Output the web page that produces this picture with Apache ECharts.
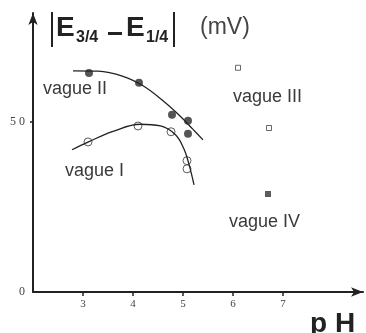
<!DOCTYPE html>
<html>
<head>
<meta charset="utf-8">
<script src="https://cdn.jsdelivr.net/npm/echarts@6/dist/echarts.min.js"></script>
<style>
  html, body { margin: 0; padding: 0; background: #fff; }
  #main { width: 366px; height: 333px; }
</style>
</head>
<body>
<div id="main"></div>
<script>
// readings taken off the figure: [pH, |E3/4 - E1/4| in mV]
var vagueI = [[3.1, 44.1], [4.1, 48.8], [4.76, 47.1], [5.08, 38.6], [5.08, 36.2]];
var vagueII = [[3.12, 64.4], [4.12, 61.5], [4.78, 52.1], [5.1, 50.3], [5.1, 46.5]];
var vagueIII = [[6.1, 65.9], [6.72, 48.2]];
var vagueIV = [[6.7, 28.8]];

// hand-drawn trend curves, read at a few points along each
var curveI = [[2.78, 41.8], [3.12, 44.2], [3.6, 47.2], [4.15, 49.3], [4.55, 48.8], [4.85, 46.2], [5.02, 42], [5.12, 37.5], [5.22, 31.5]];
var curveII = [[2.8, 65], [3.3, 64.9], [3.8, 63.4], [4.2, 60.6], [4.6, 56.2], [4.95, 51.6], [5.2, 47.8], [5.4, 44.7]];

var xTicks = [3, 4, 5, 6, 7];
var yTicks = [0, 50];

var chart = echarts.init(document.getElementById('main'), null, { renderer: 'canvas' });

var ink = '#222';
var sans = '"Liberation Sans", Arial, sans-serif';
var serif = '"Liberation Serif", "DejaVu Serif", serif';

function label(text, x, y) {
  return {
    type: 'text', x: x, y: y,
    style: { text: text, font: '18px ' + sans, fill: '#3a3a3a', verticalAlign: 'middle' }
  };
}

var option = {
  backgroundColor: '#fff',
  animation: false,
  grid: { left: 33, right: 3, top: 13, bottom: 41 },
  xAxis: {
    type: 'value', min: 2, max: 8.6, interval: 1,
    splitLine: { show: false },
    axisLine: { lineStyle: { color: ink, width: 2 }, symbol: ['none', 'arrow'], symbolSize: [7, 12] },
    axisTick: { customValues: xTicks, length: 4, lineStyle: { color: ink, width: 1.5 } },
    axisLabel: { customValues: xTicks, margin: 7, fontFamily: serif, fontSize: 11, color: '#444' }
  },
  yAxis: {
    type: 'value', min: 0, max: 82,
    splitLine: { show: false },
    axisLine: { lineStyle: { color: ink, width: 2 }, symbol: ['none', 'arrow'], symbolSize: [7, 12] },
    axisTick: { customValues: [50], length: 3, lineStyle: { color: ink, width: 1.5 } },
    axisLabel: {
      customValues: yTicks, margin: 8, fontFamily: serif, fontSize: 12, color: '#444',
      formatter: function (v) { return v === 50 ? '5 0' : String(v); }
    }
  },
  series: [
    { type: 'line', data: curveI, smooth: 0.4, showSymbol: false, silent: true,
      lineStyle: { color: ink, width: 1.3 } },
    { type: 'line', data: curveII, smooth: 0.4, showSymbol: false, silent: true,
      lineStyle: { color: ink, width: 1.3 } },
    { type: 'scatter', data: vagueI, symbol: 'circle', symbolSize: 8,
      itemStyle: { color: '#fff', borderColor: '#333', borderWidth: 1 } },
    { type: 'scatter', data: vagueII, symbol: 'circle', symbolSize: 8,
      itemStyle: { color: '#2a2a2a' } },
    { type: 'scatter', data: vagueIII, symbol: 'rect', symbolSize: 5,
      itemStyle: { color: '#fff', borderColor: '#444', borderWidth: 1 } },
    { type: 'scatter', data: vagueIV, symbol: 'rect', symbolSize: 6,
      itemStyle: { color: '#333' } }
  ],
  graphic: [
    // y axis title |E3/4 - E1/4| (mV)
    { type: 'line', shape: { x1: 52, y1: 12, x2: 52, y2: 47 }, style: { stroke: ink, lineWidth: 2 } },
    { type: 'text', x: 56, y: 28, style: { text: 'E', font: 'bold 28px ' + sans, fill: ink, verticalAlign: 'middle' } },
    { type: 'text', x: 76, y: 38, style: { text: '3/4', font: 'bold 16px ' + sans, fill: ink, verticalAlign: 'middle' } },
    { type: 'rect', shape: { x: 108, y: 32, width: 14, height: 3 }, style: { fill: ink } },
    { type: 'text', x: 126, y: 28, style: { text: 'E', font: 'bold 28px ' + sans, fill: ink, verticalAlign: 'middle' } },
    { type: 'text', x: 146, y: 38, style: { text: '1/4', font: 'bold 16px ' + sans, fill: ink, verticalAlign: 'middle' } },
    { type: 'line', shape: { x1: 174, y1: 12, x2: 174, y2: 47 }, style: { stroke: ink, lineWidth: 2 } },
    { type: 'text', x: 200, y: 28, style: { text: '(mV)', font: '23px ' + sans, fill: '#444', verticalAlign: 'middle' } },
    // x axis title
    { type: 'text', x: 310, y: 310, style: { text: 'p H', font: 'bold 28px ' + sans, fill: ink, verticalAlign: 'top' } },
    // curve labels
    label('vague II', 43, 89),
    label('vague III', 233, 97),
    label('vague I', 65, 171),
    label('vague IV', 229, 222)
  ]
};

chart.setOption(option);
</script>
</body>
</html>
